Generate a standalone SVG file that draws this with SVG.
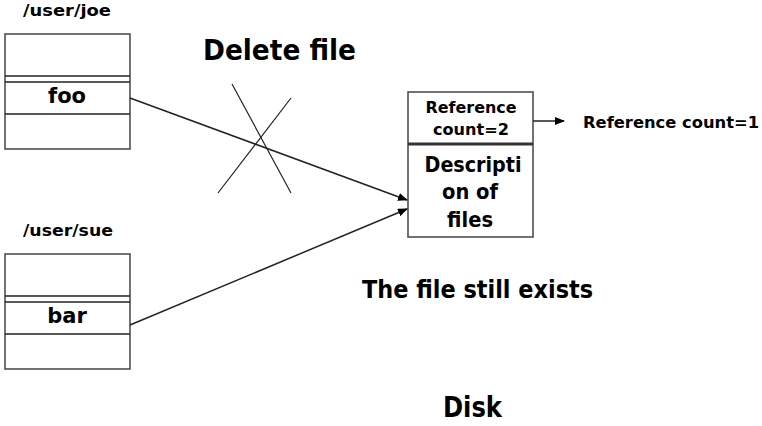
<svg xmlns="http://www.w3.org/2000/svg" width="762" height="426" viewBox="0 0 762 426">
<style>
text{font-family:"DejaVu Sans","Liberation Sans",sans-serif;font-weight:bold;fill:#000}
.box{fill:#fff;stroke:#444;stroke-width:1.5}
.ln{stroke:#222;stroke-width:1.5;fill:none}
.cx{stroke:#222;stroke-width:1.2;fill:none}
</style>
<defs>
<marker id="ah" markerWidth="10" markerHeight="8" refX="9" refY="4" orient="auto" markerUnits="userSpaceOnUse">
<path d="M0,0 L10,4 L0,8 Z" fill="#000"/>
</marker>
</defs>
<rect width="762" height="426" fill="#fff"/>
<g id="joe">
<text x="23" y="16" font-size="16" textLength="88" lengthAdjust="spacingAndGlyphs">/user/joe</text>
<rect class="box" x="5" y="34" width="125" height="115"/>
<line class="ln" x1="5" y1="76" x2="130" y2="76"/>
<line class="ln" x1="5" y1="82" x2="130" y2="82"/>
<line class="ln" x1="5" y1="114" x2="130" y2="114"/>
<text x="67" y="103" font-size="21" text-anchor="middle">foo</text>
</g>
<g id="sue">
<text x="23" y="236" font-size="16" textLength="90" lengthAdjust="spacingAndGlyphs">/user/sue</text>
<rect class="box" x="5" y="254" width="125" height="115"/>
<line class="ln" x1="5" y1="296" x2="130" y2="296"/>
<line class="ln" x1="5" y1="302" x2="130" y2="302"/>
<line class="ln" x1="5" y1="334" x2="130" y2="334"/>
<text x="67" y="323" font-size="21" text-anchor="middle">bar</text>
</g>
<g id="inode">
<rect class="box" x="408" y="92" width="125" height="145"/>
<line x1="408" y1="144" x2="533" y2="144" stroke="#333" stroke-width="3"/>
<text x="471" y="113" font-size="16" text-anchor="middle" textLength="91" lengthAdjust="spacingAndGlyphs">Reference</text>
<text x="471" y="135" font-size="16" text-anchor="middle" textLength="76" lengthAdjust="spacingAndGlyphs">count=2</text>
<text x="473" y="172" font-size="22" text-anchor="middle" textLength="97" lengthAdjust="spacingAndGlyphs">Descripti</text>
<text x="470" y="199" font-size="22" text-anchor="middle" textLength="56" lengthAdjust="spacingAndGlyphs">on of</text>
<text x="470" y="227" font-size="22" text-anchor="middle" textLength="46" lengthAdjust="spacingAndGlyphs">files</text>
</g>
<g id="labels">
<text x="203" y="60" font-size="29" textLength="153" lengthAdjust="spacingAndGlyphs">Delete file</text>
<text x="583" y="128" font-size="16.5" textLength="176" lengthAdjust="spacingAndGlyphs">Reference count=1</text>
<text x="362" y="298" font-size="24" textLength="231" lengthAdjust="spacingAndGlyphs">The file still exists</text>
<text x="443" y="417" font-size="28" textLength="59" lengthAdjust="spacingAndGlyphs">Disk</text>
</g>
<g id="connectors">
<line class="ln" x1="130" y1="98" x2="407" y2="200" marker-end="url(#ah)"/>
<line class="ln" x1="130" y1="325" x2="407" y2="209" marker-end="url(#ah)"/>
<line class="ln" x1="533" y1="121" x2="564" y2="121" marker-end="url(#ah)"/>
<line class="cx" x1="232" y1="84" x2="291" y2="193"/>
<line class="cx" x1="291" y1="98" x2="218" y2="193"/>
</g>
</svg>
